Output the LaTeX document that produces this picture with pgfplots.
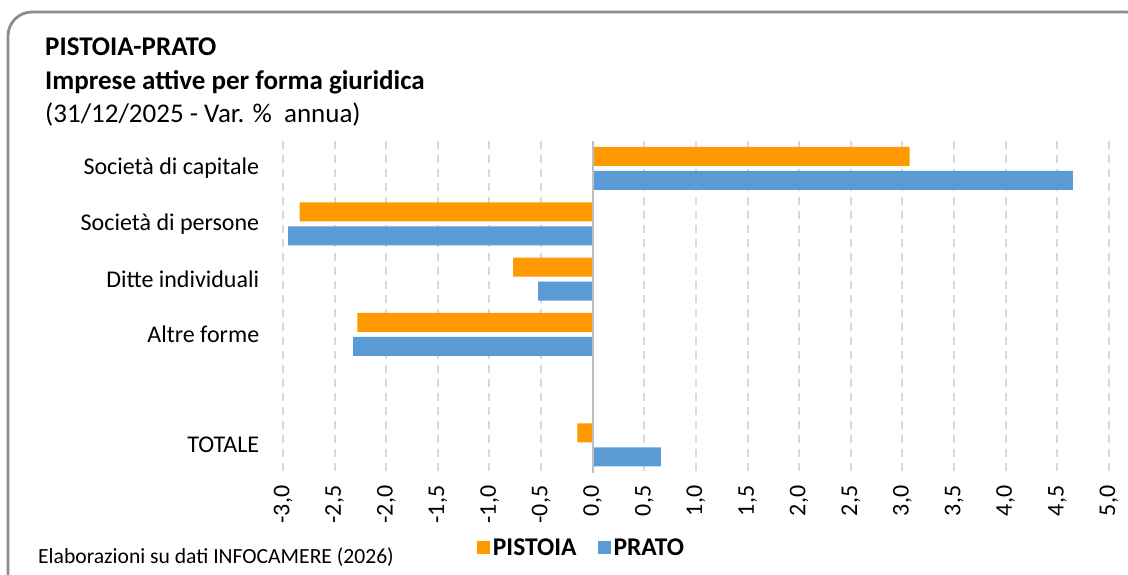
\documentclass[border=0pt]{standalone}
\usepackage{fontspec}
\setmainfont{Carlito}
\usepackage{pgfplots}
\pgfplotsset{compat=1.18}
\definecolor{pistoia}{HTML}{FF9900}
\definecolor{prato}{HTML}{5B9BD5}
\definecolor{gridc}{HTML}{D9D9D9}
\definecolor{zeroc}{HTML}{BFBFBF}
\definecolor{borderc}{HTML}{8C8C8C}
\begin{document}
\begin{tikzpicture}
\path[use as bounding box] (0pt,0pt) rectangle (1128pt,-575pt);
\begin{scope}
\clip (0pt,0pt) rectangle (1128pt,-575pt);
\draw[rounded corners=24pt, line width=2.8pt, borderc] (8pt,-12pt) rectangle (1150pt,-600pt);
\end{scope}
\node[anchor=base west, font=\bfseries\fontsize{27}{32}\selectfont, inner sep=0pt] at (45pt,-56pt) {PISTOIA-PRATO};
\node[anchor=base west, font=\bfseries\fontsize{27}{32}\selectfont, inner sep=0pt] at (45pt,-90pt) {Imprese attive per forma giuridica};
\node[anchor=base west, font=\fontsize{27}{32}\selectfont, inner sep=0pt] at (45pt,-123pt) {(31/12/2025 - Var. \%\ \ annua)};
\node[anchor=base west, font=\fontsize{21.6}{25}\selectfont, inner sep=0pt] at (38pt,-563pt) {Elaborazioni su dati INFOCAMERE (2026)};
\begin{axis}[
  at={(283pt,-140.8pt)}, anchor=north west,
  scale only axis, width=826pt, height=331.8pt,
  xbar,
  xmin=-3, xmax=5, ymin=-0.5, ymax=5.5, y dir=reverse,
  xtick={-3,-2.5,...,5},
  ytick={0,1,2,3,5},
  yticklabels={Società di capitale,Società di persone,Ditte individuali,Altre forme,TOTALE},
  axis line style={draw=none},
  tick style={draw=none},
  xmajorgrids,
  major grid style={gridc, line width=2pt, dash pattern=on 8pt off 6pt},
  /pgf/number format/.cd, use comma, fixed, fixed zerofill, precision=1, assume math mode=true,
  /pgfplots/.cd,
  xticklabel style={rotate=90, anchor=east, font=\fontsize{24}{28}\selectfont, inner sep=2pt, xshift=-11pt},
  yticklabel style={font=\fontsize{24}{28}\selectfont, xshift=-16pt},
  legend style={at={(0.362,-0.227)}, anchor=center, draw=none, fill=none,
    font=\bfseries\fontsize{25.5}{30}\selectfont, legend columns=2,
    /tikz/every even column/.append style={column sep=18pt},
    nodes={inner sep=3pt}},
  legend image code/.code={\fill[#1] (0pt,-6.5pt) rectangle (13pt,6.5pt);},
]
\addplot[fill=pistoia, draw=none, bar width=19pt, bar shift=12pt] coordinates {(3.07,0) (-2.84,1) (-0.77,2) (-2.28,3) (-0.15,5)};
\addlegendentry{PISTOIA}
\addplot[fill=prato, draw=none, bar width=19pt, bar shift=-12pt] coordinates {(4.65,0) (-2.95,1) (-0.53,2) (-2.32,3) (0.66,5)};
\addlegendentry{PRATO}
\draw[zeroc, line width=2pt] (axis cs:0,-0.5) -- (axis cs:0,5.5);
\end{axis}
\end{tikzpicture}
\end{document}
